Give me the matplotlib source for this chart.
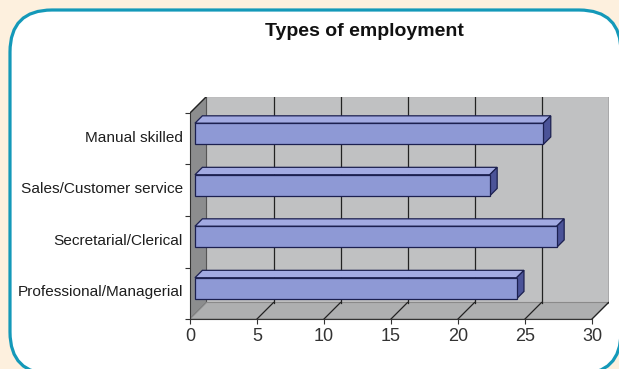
import matplotlib
matplotlib.use("Agg")
import matplotlib.pyplot as plt
from matplotlib.patches import Polygon, FancyBboxPatch
from matplotlib.transforms import IdentityTransform

plt.rcParams['font.family'] = ['Liberation Sans', 'DejaVu Sans']

title = "Types of employment"
categories = ["Professional/Managerial", "Secretarial/Clerical",
              "Sales/Customer service", "Manual skilled"]
values = [24, 27, 22, 26]
x_ticks = [0, 5, 10, 15, 20, 25, 30]

# chart geometry (pixels)
W, H = 619, 369
X0_PX, PX_PER_UNIT = 190, 13.4
FRONT_BOTTOM_PX, BAND_PX = 319, 51.5
DEPTH_PX = 16.5
BAR_H = 0.41
BAR_FRONT, BAR_BACK = 0.30, 0.75  # bar depth as fraction of the wall depth

x_max = x_ticks[-1]
n = len(categories)
dx = DEPTH_PX / PX_PER_UNIT
dy = DEPTH_PX / BAND_PX

fig = plt.figure(figsize=(W / 100, H / 100), dpi=100, facecolor='#fdf0de')

# white panel with rounded teal border
frame = FancyBboxPatch((10, -5), 611, 364, boxstyle="round,pad=0,rounding_size=42",
                       transform=IdentityTransform(), facecolor='white',
                       edgecolor='#1499b9', linewidth=2.3, zorder=-10)
fig.add_artist(frame)

left = X0_PX / W
width = (x_max * PX_PER_UNIT + DEPTH_PX) / W
bottom = 1 - FRONT_BOTTOM_PX / H
height = (n * BAND_PX + DEPTH_PX) / H
ax = fig.add_axes([left, bottom, width, height])
ax.set_xlim(0, x_max + dx)
ax.set_ylim(-0.5, n - 0.5 + dy)
ax.set_facecolor('none')

y_lo, y_hi = -0.5, n - 0.5

# back wall, side wall and floor
ax.add_patch(Polygon([(dx, y_lo + dy), (x_max + dx, y_lo + dy),
                      (x_max + dx, y_hi + dy), (dx, y_hi + dy)],
                     closed=True, facecolor='#c0c1c2', edgecolor='#8a8a8a',
                     linewidth=0.8, zorder=1))
ax.add_patch(Polygon([(0, y_lo), (dx, y_lo + dy), (dx, y_hi + dy), (0, y_hi)],
                     closed=True, facecolor='#8c8d8e', edgecolor='#555555',
                     linewidth=0.8, zorder=1))
ax.add_patch(Polygon([(0, y_lo), (x_max, y_lo), (x_max + dx, y_lo + dy), (dx, y_lo + dy)],
                     closed=True, facecolor='#aeafb0', edgecolor='#8a8a8a',
                     linewidth=0.8, zorder=1))

# gridlines on the wall and floor
for t in x_ticks[1:]:
    ax.plot([t + dx, t + dx], [y_lo + dy, y_hi + dy], color='#222222', lw=0.9, zorder=2)
    ax.plot([t, t + dx], [y_lo, y_lo + dy], color='#222222', lw=0.9, zorder=2)
ax.plot([0, dx], [y_hi, y_hi + dy], color='#222222', lw=0.9, zorder=2)

# 3D bars
ox1, oy1 = BAR_FRONT * dx, BAR_FRONT * dy
ox2, oy2 = BAR_BACK * dx, BAR_BACK * dy
edge = '#1c2050'
for i, v in enumerate(values):
    yb = i - BAR_H / 2 + oy1
    yt = i + BAR_H / 2 + oy1
    xa, xb = ox1, v + ox1
    sx, sy = ox2 - ox1, oy2 - oy1
    ax.add_patch(Polygon([(xa, yt), (xb, yt), (xb + sx, yt + sy), (xa + sx, yt + sy)],
                         closed=True, facecolor='#a2aae2', edgecolor=edge, lw=0.9, zorder=3))
    ax.add_patch(Polygon([(xb, yb), (xb + sx, yb + sy), (xb + sx, yt + sy), (xb, yt)],
                         closed=True, facecolor='#4b5398', edgecolor=edge, lw=0.9, zorder=3))
    ax.add_patch(Polygon([(xa, yb), (xb, yb), (xb, yt), (xa, yt)],
                         closed=True, facecolor='#8e99d5', edgecolor=edge, lw=0.9, zorder=4))

# axes: front value axis and category axis
for side in ['top', 'right']:
    ax.spines[side].set_visible(False)
ax.spines['bottom'].set_bounds(0, x_max)
ax.spines['left'].set_bounds(y_lo, y_hi)
ax.spines['bottom'].set_color('#333333')
ax.spines['left'].set_color('#333333')
ax.spines['bottom'].set_zorder(5)
ax.spines['left'].set_zorder(5)

ax.set_xticks(x_ticks)
ax.set_xticklabels([str(t) for t in x_ticks], fontsize=13, color='#333333')
ax.tick_params(axis='x', direction='out', length=3.5, width=0.8, color='#333333', pad=3)

ax.set_yticks([y_lo + k for k in range(n + 1)])
ax.set_yticklabels([])
ax.tick_params(axis='y', which='major', direction='out', length=3.5, width=0.8, color='#333333')
ax.set_yticks([i + 0.05 for i in range(n)], minor=True)
ax.set_yticklabels(categories, minor=True, fontsize=11.1, color='#1e1e1e')
ax.tick_params(axis='y', which='minor', length=0, pad=5)

fig.text(364 / W, 1 - 35.5 / H, title, ha='center', va='baseline',
         fontsize=14, fontweight='bold', color='#111111')

fig.savefig('out.png', dpi=100, facecolor=fig.get_facecolor())
